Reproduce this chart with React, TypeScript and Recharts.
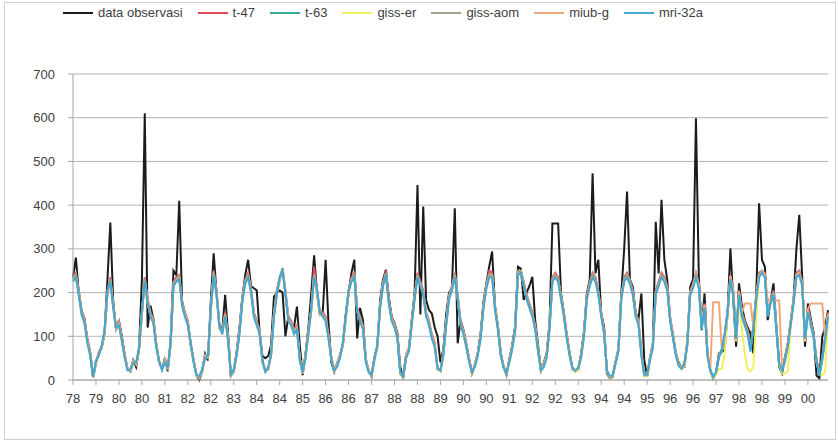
import { LineChart, Line, XAxis, YAxis, CartesianGrid } from 'recharts';

// label tiap 8 bulan (Des 1978 - Nov 2000)
const tickLabels = ['78', '79', '80', '80', '81', '82', '82', '83', '84', '84', '85', '86', '86', '87', '88', '88', '89', '90', '90', '91', '92', '92', '93', '94', '94', '95', '96', '96', '97', '98', '98', '99', '00'];
const yTicks = [0, 100, 200, 300, 400, 500, 600, 700];

const obs = [
  235, 280, 200, 155, 140, 90, 60, 5, 40, 60, 75, 110,
  230, 360, 180, 115, 135, 100, 55, 25, 20, 45, 30, 70,
  230, 610, 120, 170, 140, 80, 40, 25, 50, 20, 90, 250,
  240, 410, 180, 150, 130, 80, 45, 10, 0, 20, 60, 45,
  180, 290, 200, 125, 115, 195, 107, 10, 20, 65, 120, 190,
  240, 275, 215, 210, 205, 110, 55, 50, 55, 80, 190, 200,
  205, 200, 100, 145, 130, 120, 168, 80, 11, 60, 120, 200,
  285, 200, 150, 155, 275, 130, 40, 19, 38, 55, 80, 150,
  200, 245, 275, 95, 165, 137, 46, 20, 8, 50, 76, 183,
  230, 252, 190, 145, 130, 107, 30, 5, 50, 69, 137, 200,
  446, 150, 397, 183, 160, 152, 120, 100, 40, 70, 150, 200,
  210, 393, 84, 137, 114, 80, 46, 15, 35, 61, 107, 180,
  221, 260, 294, 168, 122, 61, 30, 11, 46, 80, 122, 259,
  255, 183, 200, 215, 236, 137, 80, 23, 40, 61, 130, 358,
  358, 358, 198, 152, 100, 60, 25, 20, 23, 60, 110, 198,
  230, 473, 244, 275, 152, 122, 15, 4, 8, 40, 69, 198,
  300, 431, 230, 213, 152, 140, 198, 46, 8, 50, 76, 362,
  244, 412, 275, 229, 137, 100, 61, 40, 27, 30, 84, 213,
  230, 599, 236, 114, 198, 60, 23, 4, 15, 61, 65, 69,
  150, 301, 183, 76, 221, 170, 137, 120, 107, 61, 198, 404,
  275, 259, 137, 180, 221, 122, 30, 15, 50, 84, 130, 183,
  300, 378, 236, 76, 175, 140, 107, 10, 4, 99, 120, 160,
];

const t47 = [
  235, 245, 205, 160, 140, 95, 65, 5, 40, 65, 75, 105,
  205, 235, 175, 120, 135, 100, 60, 25, 22, 45, 35, 70,
  155, 235, 185, 155, 140, 85, 40, 28, 45, 25, 85, 225,
  235, 240, 180, 155, 135, 85, 45, 10, 5, 22, 55, 50,
  165, 250, 205, 125, 115, 155, 100, 10, 22, 60, 115, 190,
  230, 245, 210, 155, 135, 115, 40, 22, 25, 62, 155, 205,
  235, 255, 205, 145, 135, 115, 125, 50, 15, 58, 115, 165,
  260, 205, 155, 155, 145, 105, 50, 20, 35, 55, 85, 145,
  205, 235, 245, 165, 145, 125, 48, 20, 10, 52, 78, 175,
  225, 250, 185, 145, 130, 105, 15, 5, 58, 72, 135, 195,
  245, 225, 205, 155, 135, 105, 85, 25, 20, 62, 135, 195,
  215, 245, 195, 135, 115, 85, 48, 15, 35, 62, 105, 175,
  220, 250, 245, 170, 125, 62, 30, 12, 48, 78, 120, 250,
  250, 225, 195, 175, 155, 125, 72, 20, 35, 58, 125, 235,
  245, 235, 195, 155, 105, 62, 25, 20, 25, 58, 110, 195,
  225, 245, 235, 205, 155, 115, 20, 5, 10, 42, 72, 195,
  235, 245, 230, 205, 155, 135, 62, 10, 10, 52, 85, 205,
  225, 245, 235, 215, 145, 105, 62, 35, 27, 38, 88, 205,
  220, 245, 220, 125, 175, 62, 20, 5, 15, 58, 68, 105,
  155, 240, 205, 95, 205, 155, 135, 115, 72, 125, 195, 245,
  250, 245, 155, 185, 205, 125, 35, 20, 52, 82, 135, 185,
  245, 250, 225, 95, 165, 135, 105, 45, 10, 52, 98, 155,
];

const t63 = [
  230, 240, 200, 155, 135, 90, 60, 5, 40, 60, 75, 110,
  200, 230, 170, 115, 130, 95, 55, 25, 20, 45, 35, 70,
  150, 230, 180, 150, 135, 80, 40, 25, 45, 25, 80, 220,
  230, 235, 175, 150, 130, 80, 45, 10, 5, 20, 55, 50,
  160, 245, 200, 120, 110, 150, 95, 10, 20, 60, 110, 185,
  225, 240, 205, 150, 130, 110, 40, 20, 25, 60, 150, 200,
  230, 255, 200, 140, 130, 110, 120, 50, 15, 55, 110, 160,
  240, 200, 150, 150, 140, 100, 50, 20, 35, 55, 80, 140,
  200, 230, 240, 160, 140, 120, 45, 20, 10, 50, 75, 170,
  220, 245, 180, 140, 125, 100, 15, 5, 55, 70, 130, 190,
  240, 220, 200, 150, 130, 100, 80, 25, 20, 60, 130, 190,
  210, 240, 190, 130, 110, 80, 45, 15, 35, 60, 100, 170,
  215, 240, 240, 165, 120, 60, 30, 12, 45, 75, 115, 245,
  250, 220, 190, 170, 150, 120, 70, 20, 35, 55, 120, 230,
  240, 230, 190, 150, 100, 60, 25, 20, 25, 55, 105, 190,
  220, 240, 230, 200, 150, 110, 20, 5, 10, 40, 70, 190,
  230, 240, 225, 200, 150, 130, 60, 10, 10, 50, 80, 200,
  220, 240, 230, 210, 140, 100, 60, 35, 27, 35, 85, 200,
  215, 240, 215, 120, 170, 60, 20, 5, 15, 55, 65, 100,
  150, 235, 200, 90, 200, 150, 130, 110, 70, 120, 190, 240,
  250, 240, 150, 180, 200, 120, 35, 20, 50, 80, 130, 180,
  240, 245, 220, 90, 160, 130, 100, 45, 10, 50, 95, 150,
];

const gissEr = [
  228, 238, 198, 152, 132, 88, 58, 5, 42, 58, 78, 112,
  198, 228, 168, 118, 128, 92, 52, 25, 22, 42, 38, 72,
  152, 228, 178, 148, 132, 82, 42, 25, 42, 28, 82, 218,
  228, 232, 172, 148, 128, 82, 42, 10, 5, 22, 52, 52,
  162, 242, 198, 122, 108, 148, 92, 10, 22, 58, 108, 182,
  222, 238, 202, 148, 128, 108, 42, 20, 28, 58, 148, 198,
  228, 252, 198, 138, 128, 108, 118, 48, 15, 52, 108, 158,
  238, 202, 152, 148, 138, 98, 48, 20, 32, 52, 82, 142,
  202, 228, 238, 158, 138, 118, 42, 20, 10, 48, 72, 168,
  218, 242, 178, 138, 122, 98, 15, 5, 52, 68, 128, 188,
  238, 218, 198, 148, 128, 98, 78, 25, 20, 58, 128, 188,
  208, 238, 188, 128, 108, 78, 42, 15, 32, 58, 98, 168,
  212, 238, 238, 162, 118, 58, 28, 12, 42, 72, 112, 242,
  248, 218, 188, 168, 148, 118, 68, 20, 32, 52, 118, 228,
  238, 228, 188, 148, 98, 58, 25, 20, 22, 52, 102, 188,
  218, 238, 228, 198, 148, 108, 20, 5, 10, 38, 68, 188,
  228, 238, 222, 198, 148, 128, 58, 10, 10, 48, 78, 198,
  218, 238, 228, 208, 138, 98, 58, 32, 25, 32, 82, 198,
  212, 238, 212, 118, 168, 58, 20, 5, 12, 25, 25, 60,
  150, 232, 198, 88, 180, 120, 60, 25, 20, 30, 140, 238,
  248, 238, 148, 178, 198, 118, 35, 15, 15, 20, 120, 178,
  238, 242, 218, 88, 158, 128, 98, 40, 15, 10, 20, 140,
];

const gissAom = [
  232, 242, 202, 158, 138, 92, 62, 6, 38, 62, 72, 108,
  202, 232, 172, 118, 132, 92, 58, 24, 22, 42, 38, 68,
  152, 232, 182, 152, 138, 82, 42, 24, 48, 24, 78, 222,
  232, 238, 178, 152, 132, 82, 48, 12, 6, 18, 58, 52,
  158, 248, 202, 118, 112, 152, 98, 12, 18, 62, 112, 188,
  228, 242, 208, 152, 132, 112, 42, 22, 24, 62, 152, 202,
  232, 252, 202, 142, 132, 112, 122, 48, 14, 58, 112, 162,
  242, 202, 152, 152, 142, 102, 52, 22, 38, 58, 82, 142,
  202, 232, 242, 162, 142, 122, 48, 22, 12, 52, 78, 172,
  222, 242, 182, 142, 128, 102, 14, 6, 58, 72, 132, 192,
  242, 222, 202, 152, 132, 102, 82, 24, 22, 62, 132, 192,
  212, 242, 192, 132, 112, 82, 48, 14, 38, 62, 102, 172,
  218, 242, 242, 168, 122, 62, 32, 14, 48, 78, 118, 248,
  248, 222, 192, 172, 152, 122, 72, 22, 38, 58, 122, 232,
  242, 232, 192, 152, 102, 62, 28, 22, 28, 58, 108, 192,
  222, 242, 232, 202, 152, 112, 22, 6, 12, 42, 72, 192,
  232, 242, 228, 202, 152, 132, 62, 12, 12, 52, 82, 202,
  222, 242, 232, 212, 142, 102, 62, 38, 28, 38, 88, 202,
  218, 242, 218, 122, 172, 62, 22, 6, 18, 58, 68, 102,
  152, 238, 202, 92, 202, 152, 132, 112, 72, 122, 192, 242,
  248, 242, 152, 182, 202, 122, 38, 22, 52, 82, 132, 182,
  242, 248, 222, 92, 162, 132, 102, 48, 12, 52, 98, 152,
];

const miubG = [
  228, 236, 196, 150, 132, 88, 58, 6, 42, 58, 76, 112,
  196, 226, 166, 116, 128, 90, 54, 26, 22, 44, 36, 72,
  148, 226, 176, 148, 132, 78, 42, 26, 44, 26, 82, 216,
  226, 232, 172, 148, 128, 78, 44, 12, 6, 22, 54, 52,
  158, 242, 196, 118, 108, 148, 92, 12, 22, 58, 108, 182,
  222, 238, 202, 148, 128, 108, 42, 22, 26, 58, 148, 196,
  226, 250, 196, 138, 128, 108, 118, 48, 16, 54, 108, 158,
  236, 198, 148, 148, 138, 98, 48, 22, 36, 54, 78, 138,
  198, 228, 236, 158, 138, 118, 44, 22, 12, 48, 74, 168,
  218, 240, 178, 138, 122, 98, 16, 6, 54, 68, 128, 186,
  236, 218, 196, 148, 128, 98, 78, 26, 22, 58, 128, 186,
  206, 236, 186, 128, 108, 78, 44, 16, 36, 58, 98, 168,
  212, 236, 236, 162, 118, 58, 32, 14, 44, 72, 112, 240,
  246, 216, 186, 166, 148, 118, 68, 22, 36, 54, 118, 226,
  236, 226, 186, 148, 98, 58, 26, 22, 26, 54, 102, 186,
  216, 236, 226, 196, 148, 108, 22, 6, 12, 38, 68, 186,
  226, 236, 222, 196, 148, 128, 58, 12, 12, 48, 78, 196,
  216, 236, 226, 206, 138, 98, 58, 36, 28, 36, 82, 196,
  218, 242, 218, 122, 172, 62, 25, 178, 178, 178, 70, 100,
  152, 238, 202, 92, 202, 152, 175, 175, 175, 120, 190, 240,
  248, 242, 182, 182, 182, 182, 182, 25, 40, 80, 130, 180,
  240, 245, 222, 92, 162, 175, 175, 175, 175, 175, 95, 150,
];

const mri32a = [
  225, 235, 195, 150, 130, 85, 55, 8, 45, 55, 80, 115,
  205, 225, 165, 120, 125, 90, 50, 22, 25, 40, 40, 75,
  160, 225, 175, 145, 130, 75, 45, 22, 40, 30, 85, 215,
  225, 230, 170, 145, 125, 85, 40, 12, 8, 25, 50, 55,
  165, 240, 195, 125, 105, 145, 90, 12, 25, 55, 105, 180,
  220, 235, 200, 145, 125, 105, 45, 18, 30, 55, 145, 195,
  235, 250, 195, 135, 125, 105, 115, 45, 18, 50, 105, 165,
  235, 210, 155, 145, 135, 95, 45, 22, 30, 50, 85, 145,
  205, 225, 235, 155, 135, 115, 40, 18, 12, 45, 80, 165,
  215, 240, 175, 135, 120, 95, 18, 8, 50, 65, 125, 185,
  235, 215, 195, 145, 125, 95, 75, 28, 22, 55, 125, 185,
  205, 235, 185, 125, 105, 75, 40, 18, 30, 55, 95, 165,
  210, 235, 235, 160, 115, 55, 28, 15, 40, 70, 110, 240,
  245, 215, 185, 165, 145, 115, 65, 22, 30, 50, 115, 225,
  235, 225, 185, 145, 95, 55, 28, 22, 28, 50, 100, 185,
  215, 235, 225, 195, 145, 105, 22, 8, 12, 38, 65, 185,
  225, 235, 220, 195, 145, 125, 55, 12, 12, 45, 75, 195,
  215, 235, 225, 205, 135, 95, 55, 32, 25, 38, 80, 195,
  210, 235, 210, 115, 165, 55, 22, 8, 18, 50, 70, 105,
  155, 230, 195, 95, 195, 145, 125, 105, 65, 115, 185, 235,
  245, 235, 145, 175, 195, 115, 38, 22, 45, 75, 125, 175,
  235, 240, 215, 95, 155, 125, 95, 42, 12, 45, 90, 145,
];

const series = [
  { key: 'obs', name: 'data observasi', color: '#1c1c1c', width: 2 },
  { key: 't47', name: 't-47', color: '#e24a5c', width: 2 },
  { key: 't63', name: 't-63', color: '#35ae9c', width: 2 },
  { key: 'gissEr', name: 'giss-er', color: '#f1f060', width: 2 },
  { key: 'gissAom', name: 'giss-aom', color: '#a2a28a', width: 2 },
  { key: 'miubG', name: 'miub-g', color: '#f2a67a', width: 2 },
  { key: 'mri32a', name: 'mri-32a', color: '#40a8d4', width: 2 },
];

const data = obs.map((v, i) => ({
  i,
  obs: v,
  t47: t47[i],
  t63: t63[i],
  gissEr: gissEr[i],
  gissAom: gissAom[i],
  miubG: miubG[i],
  mri32a: mri32a[i],
}));

const font = '"Liberation Sans", Arial, sans-serif';

export default function App() {
  return (
    <div style={{ position: 'relative', width: 838, height: 442, background: '#fff', fontFamily: font }}>
      <style>{'body{margin:0}'}</style>
      <div style={{ position: 'absolute', left: 4, top: 2, width: 830, height: 436, border: '1px solid #cfcfcf' }} />
      <div style={{ position: 'absolute', left: 63, top: 5, display: 'flex', alignItems: 'center', gap: 15, fontSize: 13, color: '#404040' }}>
        {series.map((s) => (
          <div key={s.key} style={{ display: 'flex', alignItems: 'center', gap: 5 }}>
            <svg width={30} height={10}>
              <line x1={0} y1={5} x2={30} y2={5} stroke={s.color} strokeWidth={2} />
            </svg>
            <span>{s.name}</span>
          </div>
        ))}
      </div>
      <LineChart width={838} height={442} data={data} margin={{ top: 74, right: 10, bottom: 32, left: 0 }} style={{ position: 'absolute', left: 0, top: 0 }}>
        <CartesianGrid vertical={false} stroke="#b4b4b4" />
        <XAxis
          dataKey="i"
          interval={7}
          height={30}
          tickSize={5}
          tickMargin={9}
          stroke="#a6a6a6"
          tick={{ fill: '#404040', fontSize: 13, fontFamily: font }}
          tickFormatter={(v) => tickLabels[v / 8] ?? ''}
        />
        <YAxis
          width={73}
          domain={[0, 700]}
          ticks={yTicks}
          tickSize={5}
          tickMargin={13}
          stroke="#a6a6a6"
          tick={{ fill: '#404040', fontSize: 13, fontFamily: font }}
        />
        {series.map((s) => (
          <Line
            key={s.key}
            type="linear"
            dataKey={s.key}
            name={s.name}
            stroke={s.color}
            strokeWidth={s.width}
            dot={false}
            isAnimationActive={false}
          />
        ))}
      </LineChart>
    </div>
  );
}
